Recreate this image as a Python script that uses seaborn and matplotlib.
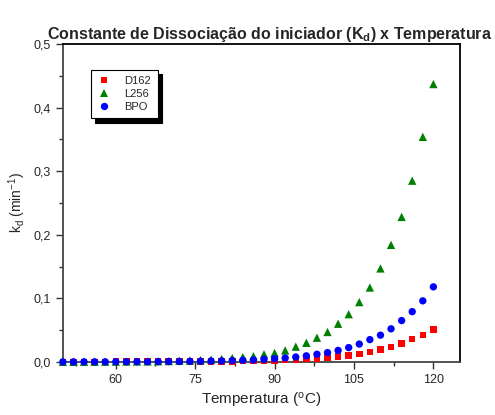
import numpy as np
import pandas as pd
import seaborn as sns
import matplotlib.pyplot as plt
from matplotlib.ticker import MultipleLocator, FuncFormatter
from matplotlib.lines import Line2D

sns.set_style('ticks')
plt.rcParams['font.family'] = ['Liberation Sans', 'DejaVu Sans']
plt.rcParams['mathtext.default'] = 'regular'

temps = list(range(50, 121, 2))

d162 = [0.0001, 0.0001, 0.0001, 0.0001, 0.0001, 0.0002, 0.0002, 0.0002, 0.0002, 0.0002,
        0.0002, 0.0003, 0.0003, 0.0004, 0.0006, 0.0007, 0.0009, 0.0011, 0.0014, 0.0018,
        0.0023, 0.0028, 0.0035, 0.0043, 0.0055, 0.0068, 0.0084, 0.0100, 0.0126, 0.0157,
        0.0194, 0.0236, 0.0290, 0.0357, 0.0425, 0.0510]
l256 = [0.0001, 0.0001, 0.0002, 0.0002, 0.0003, 0.0004, 0.0005, 0.0006, 0.0008, 0.0010,
        0.0013, 0.0017, 0.0022, 0.0028, 0.0035, 0.0045, 0.0060, 0.0075, 0.0090, 0.0120,
        0.0140, 0.0180, 0.0240, 0.0300, 0.0380, 0.0470, 0.0600, 0.0750, 0.0940, 0.1170,
        0.1470, 0.1840, 0.2280, 0.2850, 0.3540, 0.4370]
bpo = [0.0000, 0.0001, 0.0001, 0.0001, 0.0001, 0.0002, 0.0002, 0.0003, 0.0003, 0.0004,
       0.0005, 0.0006, 0.0008, 0.0010, 0.0013, 0.0016, 0.0021, 0.0026, 0.0032, 0.0040,
       0.0050, 0.0062, 0.0077, 0.0095, 0.0120, 0.0146, 0.0180, 0.0225, 0.0280, 0.0350,
       0.0420, 0.0520, 0.0650, 0.0790, 0.0960, 0.1180]

series = [('D162', d162, 's', 'red', 22),
          ('L256', l256, '^', 'green', 36),
          ('BPO', bpo, 'o', 'blue', 28)]

fig = plt.figure(figsize=(4.95, 4.15), dpi=100)
ax = fig.add_axes([0.127, 0.128, 0.802, 0.766])

for name, vals, mk, col, sz in series:
    df = pd.DataFrame({'T': temps, 'kd': vals})
    sns.scatterplot(data=df, x='T', y='kd', ax=ax, marker=mk, color=col, s=sz,
                    edgecolor='none', clip_on=False, zorder=3)

ax.set_xlim(50, 125)
ax.set_ylim(0, 0.5)
ax.xaxis.set_major_locator(MultipleLocator(15))
ax.xaxis.set_minor_locator(MultipleLocator(7.5))
ax.yaxis.set_major_locator(MultipleLocator(0.1))
ax.yaxis.set_minor_locator(MultipleLocator(0.05))
ax.yaxis.set_major_formatter(FuncFormatter(lambda v, p: f'{v:.1f}'.replace('.', ',')))
ax.tick_params(which='major', direction='out', length=5, width=1, labelsize=9, color='#333333')
ax.tick_params(which='minor', direction='out', length=3, width=1, color='#333333')
for sp in ax.spines.values():
    sp.set_linewidth(1.3)
    sp.set_color('black')
ax.spines['left'].set_color('#444444')
ax.spines['bottom'].set_color('#444444')

ax.set_xlabel('Temperatura ($^{o}$C)', fontsize=11)
ax.set_ylabel('k$_{d}$ (min$^{-1}$)', fontsize=10)

fig.text(0.545, 0.893, 'Constante de Dissociação do iniciador (K$_{d}$) x Temperatura',
         ha='center', va='bottom', fontsize=11.5, fontweight='bold')

handles = [Line2D([], [], linestyle='none', marker=mk, color=col,
                  markersize=np.sqrt(sz), markeredgewidth=0)
           for name, vals, mk, col, sz in series]
leg = ax.legend(handles, [s[0] for s in series], loc='upper left',
                bbox_to_anchor=(0.057, 0.937), frameon=True, fancybox=False,
                framealpha=1, edgecolor='black', fontsize=8, handlelength=1.2,
                handletextpad=1.2, borderpad=0.6, labelspacing=0.25,
                shadow={'color': 'black', 'alpha': 1, 'ox': 3, 'oy': -3})
leg.get_frame().set_linewidth(0.8)

fig.savefig('out.png', dpi=100)
